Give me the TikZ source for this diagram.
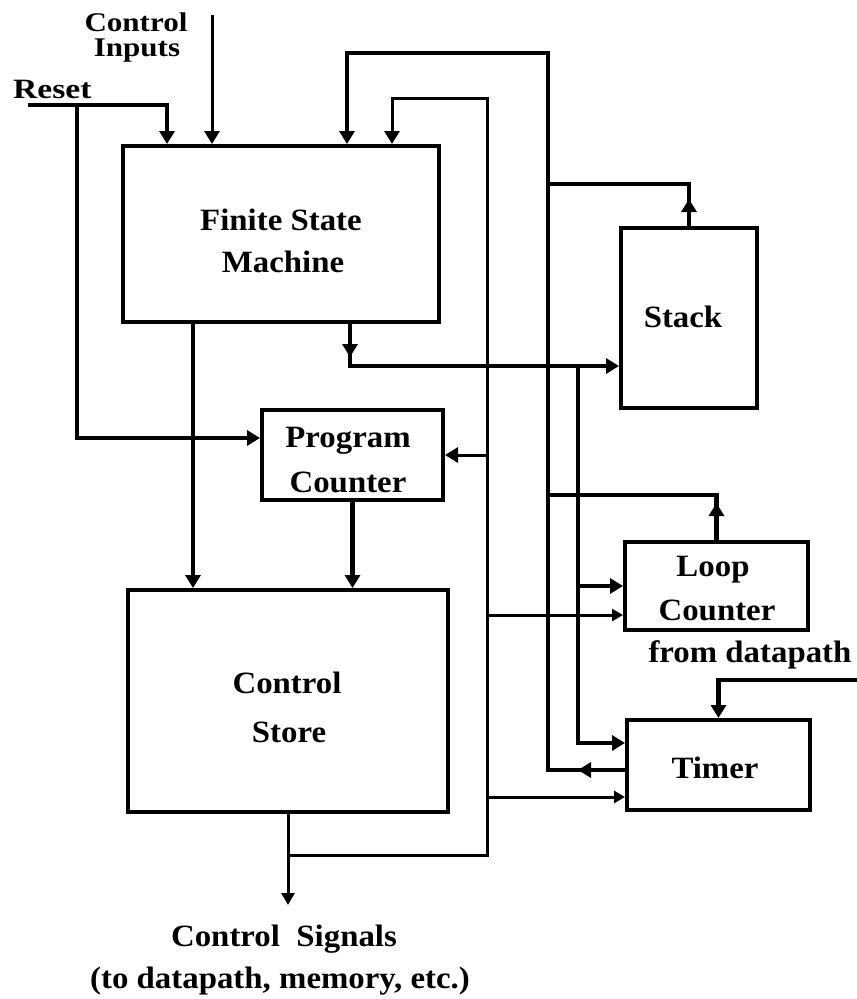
\documentclass[tikz,border=0pt]{standalone}
\usepackage{fontspec}
\newfontfamily\lblfont{Liberation Serif}[FakeStretch=1.06]
\newfontfamily\toplblfont{Liberation Serif}[FakeStretch=1.15]
\newfontfamily\rstfont{Liberation Serif}[FakeStretch=1.2]
\usetikzlibrary{arrows.meta}
\begin{document}
\begin{tikzpicture}[x=1pt,y=-1pt,
  box/.style={draw, line width=4pt, inner sep=0pt},
  lbl/.style={font=\lblfont\bfseries\fontsize{31}{31}\selectfont, inner sep=0pt},
  toplbl/.style={font=\toplblfont\bfseries\fontsize{27}{27}\selectfont, inner sep=0pt},
  rstlbl/.style={font=\rstfont\bfseries\fontsize{28}{28}\selectfont, inner sep=0pt},
  thickw/.style={line width=4.3pt},
  thinw/.style={line width=3pt},
  bigtip/.style={-{Triangle[length=13pt,width=15pt]}},
  medtip/.style={-{Triangle[length=12pt,width=13pt]}},
  smalltip/.style={-{Triangle[length=11pt,width=12pt]}}]
\useasboundingbox (0,0) rectangle (857,999);

% boxes
\node[box, minimum width=316pt, minimum height=176pt] (fsm) at (281,234) {};
\node[box, minimum width=181pt, minimum height=90pt] (pc) at (352.5,455) {};
\node[box, minimum width=320pt, minimum height=222pt] (cs) at (288,701) {};
\node[box, minimum width=136pt, minimum height=180pt] (stack) at (689,318) {};
\node[box, minimum width=183pt, minimum height=88pt] (lc) at (716.5,586) {};
\node[box, minimum width=183pt, minimum height=90pt] (timer) at (718.5,765) {};

% labels
\node[toplbl, anchor=base] (ciA) at (136,31) {Control};
\node[toplbl, anchor=base] (ciB) at (137,56) {Inputs};
\node[rstlbl, anchor=base west] (rst) at (13,98) {Reset};
\node[lbl, anchor=base] (fsmA) at (281,230) {Finite State};
\node[lbl, anchor=base] (fsmB) at (283,272) {Machine};
\node[lbl, anchor=base] (pcA) at (348,447) {Program};
\node[lbl, anchor=base] (pcB) at (348,492) {Counter};
\node[lbl, anchor=base] (csA) at (287,693) {Control};
\node[lbl, anchor=base] (csB) at (289,742) {Store};
\node[lbl, anchor=base] (stA) at (683,327) {Stack};
\node[lbl, anchor=base] (lcA) at (713,576) {Loop};
\node[lbl, anchor=base] (lcB) at (717,620) {Counter};
\node[lbl, anchor=base] (tmA) at (715,778) {Timer};
\node[lbl, anchor=base] (dp) at (750,662) {from datapath};
\node[lbl, anchor=base] (sigA) at (284,946) {Control\ \ Signals};
\node[lbl, anchor=base] (sigB) at (280,988) {(to datapath, memory, etc.)};

% control inputs
\coordinate (ciTop) at (212,15);
\draw[thinw,bigtip] (ciTop) -- (ciTop |- fsm.north);

% reset
\coordinate (rsStart) at (28,105);
\coordinate (rsIn) at (167,105);
\coordinate (rsJ) at (77,105);
\draw[thickw,bigtip] (rsStart) -- (rsIn) -- (rsIn |- fsm.north);
\draw[thickw,bigtip] (rsJ) |- ([yshift=17pt]pc.west);

% outer feedback bus (timer, stack, loop counter -> FSM)
\coordinate (busB) at (548,53);
\coordinate (fbA) at (347,53);
\draw[thickw,bigtip] ([yshift=-5pt]timer.west) -| (busB) -- (fbA) -- (fbA |- fsm.north);
\draw[thickw,bigtip] ([yshift=-5pt]timer.west) -- ++(-47,0);
\draw[thickw] (stack.north) -- ++(0,-42) coordinate (stkC) -- (busB |- stkC);
\draw[thickw,bigtip] (stack.north) -- ++(0,-27);
\draw[thickw] (lc.north) -- ++(0,-45) coordinate (lcC) -- (busB |- lcC);
\draw[thickw,bigtip] (lc.north) -- ++(0,-37);

% FSM outputs
\coordinate (fsmO2) at ([xshift=69pt]fsm.south);
\draw[thickw,bigtip] (fsmO2) |- ([yshift=-48pt]stack.west);
\draw[thickw,bigtip] (fsmO2) -- ++(0,33);
\coordinate (busC) at (578,366);
\draw[thickw,bigtip] (busC) |- ([yshift=22pt]timer.west);
\draw[thickw,bigtip] (busC |- lc.west) -- (lc.west);
\coordinate (fsmO1) at ([xshift=-88pt]fsm.south);
\draw[thickw,bigtip] (fsmO1) -- (fsmO1 |- cs.north);
\draw[thickw,bigtip] (pc.south) -- (pc.south |- cs.north);

% control store outputs
\coordinate (sigEnd) at (288,905);
\draw[thinw,medtip] (cs.south) -- (sigEnd);
\coordinate (busAj) at (288,855);
\coordinate (busA) at (487,98);
\coordinate (fbB) at (392,98);
\draw[thinw,bigtip] (busAj) -| (busA) -- (fbB) -- (fbB |- fsm.north);
\draw[thinw,bigtip] (busA |- pc.east) -- (pc.east);
\coordinate (lcIn2) at ([yshift=-29pt]lc.west);
\draw[thinw,smalltip] (busA |- lcIn2) -- (lcIn2);
\coordinate (tmIn2) at ([yshift=-32pt]timer.west);
\draw[thinw,smalltip] (busA |- tmIn2) -- (tmIn2);

% from datapath
\coordinate (dpIn) at (857,680);
\draw[thickw,bigtip] (dpIn) -| (timer.north);
\end{tikzpicture}
\end{document}
